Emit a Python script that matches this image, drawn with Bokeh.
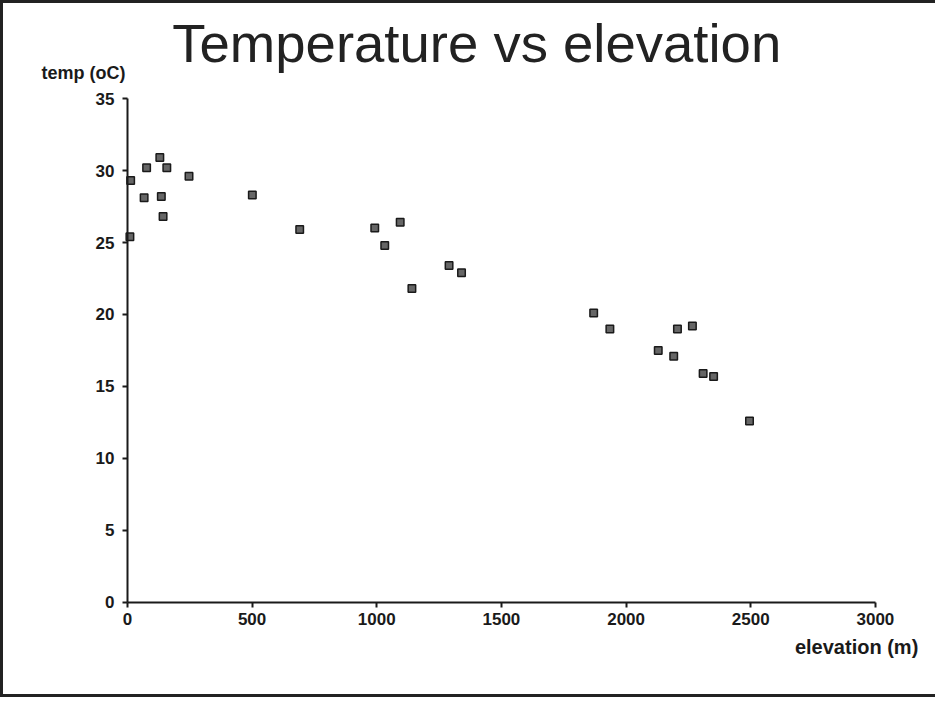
from bokeh.plotting import figure
from bokeh.models import Range1d, Label, FixedTicker
from bokeh.embed import file_html
from bokeh.resources import INLINE

# data
elevation = [13, 10, 67, 77, 130, 136, 143, 158, 247, 501, 691, 992, 1032, 1094,
             1141, 1290, 1340, 1870, 1935, 2129, 2191, 2206, 2266, 2309, 2351, 2495]
temp = [29.3, 25.4, 28.1, 30.2, 30.9, 28.2, 26.8, 30.2, 29.6, 28.3, 25.9, 26.0, 24.8, 26.4,
        21.8, 23.4, 22.9, 20.1, 19.0, 17.5, 17.1, 19.0, 19.2, 15.9, 15.7, 12.6]
x_ticks = [0, 500, 1000, 1500, 2000, 2500, 3000]
y_ticks = [0, 5, 10, 15, 20, 25, 30, 35]
title_text = "Temperature vs elevation"
x_label = "elevation (m)"
y_label = "temp (oC)"

FONT = "Liberation Sans"
INK = "#1a1a1a"

p = figure(width=935, height=697, output_backend="svg", toolbar_location=None,
           x_range=Range1d(-497, 3253), y_range=Range1d(-6.81, 41.6),
           min_border_left=0, min_border_right=0, min_border_top=0, min_border_bottom=0,
           background_fill_color="white", border_fill_color="white",
           outline_line_color=None,
           styles={"border-left": "3px solid #222", "border-top": "3px solid #222",
                   "border-bottom": "3px solid #222"})

p.grid.visible = False

for ax in (p.xaxis[0], p.yaxis[0]):
    ax.fixed_location = 0
    ax.axis_line_width = 2
    ax.axis_line_color = INK
    ax.major_tick_line_color = INK
    ax.major_tick_line_width = 2
    ax.major_tick_out = 5
    ax.major_tick_in = 0
    ax.minor_tick_line_color = None
    ax.major_label_text_font = FONT
    ax.major_label_text_font_size = "17px"
    ax.major_label_text_font_style = "bold"
    ax.major_label_text_color = INK

p.xaxis[0].ticker = FixedTicker(ticks=x_ticks)
p.yaxis[0].ticker = FixedTicker(ticks=y_ticks)
p.xaxis[0].bounds = (0, 3000)
p.yaxis[0].bounds = (0, 35)
p.xaxis[0].major_label_standoff = 6
p.yaxis[0].major_label_standoff = 8

p.scatter(elevation, temp, marker="square", size=7.5, fill_color="#666",
          line_color="#1a1a1a", line_width=1.5)

# chart title
p.add_layout(Label(x=180, y=38.82, text=title_text, text_font=FONT, text_font_size="54.5px",
                   text_color="#222", text_baseline="alphabetic"))
p.add_layout(Label(x=-345, y=36.74, text=y_label, text_font=FONT, text_font_size="18px",
                   text_font_style="bold", text_color=INK, text_baseline="alphabetic"))
p.add_layout(Label(x=3172, y=-3.12, text=x_label, text_font=FONT, text_font_size="20px",
                   text_font_style="bold", text_color=INK, text_align="right",
                   text_baseline="alphabetic"))

open("out.html", "w").write(file_html(p, INLINE))
